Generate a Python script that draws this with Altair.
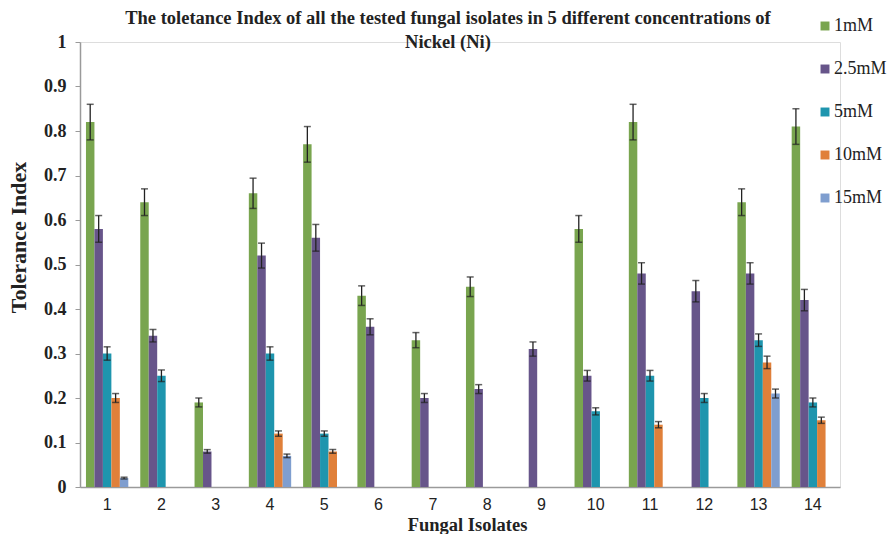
import altair as alt
import pandas as pd

# Fungal isolates on the x axis and the five nickel concentrations
isolates = [str(i) for i in range(1, 15)]
series = ["1mM", "2.5mM", "5mM", "10mM", "15mM"]
colors = ["#79A54F", "#67558A", "#1E95AE", "#E0803A", "#7F9ECF"]

# Tolerance index per isolate (None = not grown at that concentration)
ti_1mM = [0.82, 0.64, 0.19, 0.66, 0.77, 0.43, 0.33, 0.45, None, 0.58, 0.82, None, 0.64, 0.81]
ti_2_5mM = [0.58, 0.34, 0.08, 0.52, 0.56, 0.36, 0.20, 0.22, 0.31, 0.25, 0.48, 0.44, 0.48, 0.42]
ti_5mM = [0.30, 0.25, None, 0.30, 0.12, None, None, None, None, 0.17, 0.25, 0.20, 0.33, 0.19]
ti_10mM = [0.20, None, None, 0.12, 0.08, None, None, None, None, None, 0.14, None, 0.28, 0.15]
ti_15mM = [0.02, None, None, 0.07, None, None, None, None, None, None, None, None, 0.21, None]

# Standard errors
se_1mM = [0.04, 0.03, 0.01, 0.034, 0.04, 0.022, 0.017, 0.022, None, 0.03, 0.04, None, 0.03, 0.04]
se_2_5mM = [0.03, 0.014, 0.004, 0.028, 0.03, 0.018, 0.01, 0.01, 0.016, 0.012, 0.024, 0.024, 0.024, 0.024]
se_5mM = [0.015, 0.013, None, 0.015, 0.006, None, None, None, None, 0.008, 0.012, 0.01, 0.014, 0.01]
se_10mM = [0.01, None, None, 0.006, 0.004, None, None, None, None, None, 0.007, None, 0.014, 0.007]
se_15mM = [0.002, None, None, 0.004, None, None, None, None, None, None, None, None, 0.01, None]

values = [ti_1mM, ti_2_5mM, ti_5mM, ti_10mM, ti_15mM]
errors = [se_1mM, se_2_5mM, se_5mM, se_10mM, se_15mM]

rows = []
for s, vals, errs in zip(series, values, errors):
    for iso, v, e in zip(isolates, vals, errs):
        if v is None:
            continue
        rows.append({"isolate": iso, "series": s, "value": v,
                     "lo": v - e, "hi": v + e})
df = pd.DataFrame(rows)

serif = "Liberation Serif"
sans = "Liberation Sans"

x_enc = alt.X(
    "isolate:N", sort=isolates,
    scale=alt.Scale(paddingInner=0.22, paddingOuter=0.11),
    axis=alt.Axis(
        title="Fungal Isolates", labelAngle=0, labelFont=sans, labelFontSize=16,
        labelColor="#222", labelPadding=9, ticks=False,
        domainColor="#9a9a9a", domainWidth=1.5,
        titleFont=serif, titleFontSize=18.5, titleFontWeight="bold", titleColor="#222",
        titleX=387, titleY=37, titleBaseline="middle", titleAlign="center",
    ),
)
xoff_enc = alt.XOffset("series:N", sort=series,
                       scale=alt.Scale(domain=series, paddingInner=0, paddingOuter=0))

y_scale = alt.Scale(domain=[0, 1], nice=False)
y_axis = alt.Axis(
    title="Tolerance Index", values=[i / 10 for i in range(11)], format=".1~f",
    grid=False, labelFont=serif, labelFontSize=18, labelFontWeight="bold",
    labelColor="#222", labelPadding=9, tickSize=5, tickColor="#9a9a9a",
    domainColor="#9a9a9a", domainWidth=1.5,
    titleFont=serif, titleFontSize=22, titleFontWeight="bold", titleColor="#222",
    titleX=-62, titleY=195, titleBaseline="middle", titleAlign="center", titleAngle=270,
)

base = alt.Chart(df).encode(x=x_enc, xOffset=xoff_enc)

bars = base.mark_bar().encode(
    y=alt.Y("value:Q", scale=y_scale, axis=y_axis),
    color=alt.Color(
        "series:N", sort=series,
        scale=alt.Scale(domain=series, range=colors),
        legend=alt.Legend(
            title=None, orient="none", legendX=736, legendY=-25, padding=0,
            symbolType="square", symbolSize=80, symbolStrokeWidth=0,
            labelFont=serif, labelFontSize=18, labelColor="#222", labelOffset=0,
            rowPadding=25,
        ),
    ),
)

err_rule = base.mark_rule(color="#222", strokeWidth=1.3).encode(
    y=alt.Y("lo:Q", scale=y_scale, title="Tolerance Index"), y2="hi:Q")
cap_hi = base.mark_tick(color="#222", thickness=1.5, size=7).encode(
    y=alt.Y("hi:Q", scale=y_scale, title="Tolerance Index"))
cap_lo = base.mark_tick(color="#222", thickness=1.5, size=7).encode(
    y=alt.Y("lo:Q", scale=y_scale, title="Tolerance Index"))

chart = alt.layer(bars, err_rule, cap_hi, cap_lo).properties(
    width=760, height=445,
    title=alt.TitleParams(
        text=["The toletance Index of all the tested fungal isolates in 5 different concentrations of",
              "Nickel (Ni)"],
        font=serif, fontSize=18.5, fontWeight="bold", color="#222",
        anchor="middle", dx=-12, dy=34, offset=0, lineHeight=24,
    ),
    autosize=alt.AutoSizeParams(type="none"),
    padding={"left": 80, "top": 42, "right": 47, "bottom": 47},
).configure_view(stroke=None).configure(background="white")

chart.save("out.html", embed_options={"renderer": "svg", "actions": False})
